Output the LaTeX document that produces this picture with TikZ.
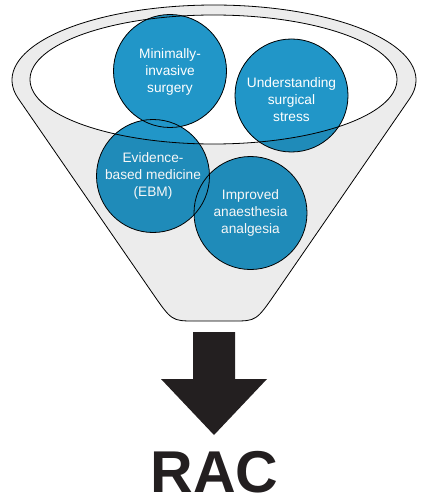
\documentclass[tikz,border=0pt]{standalone}
\usepackage{fontspec}
\setmainfont{Liberation Sans}
\usetikzlibrary{shapes.geometric}
\definecolor{racblue}{RGB}{33,150,200}
\definecolor{racdeep}{RGB}{31,139,185}
\definecolor{funnelgrey}{RGB}{236,236,236}
\definecolor{racblack}{RGB}{35,31,32}
\tikzset{
    rim/.style={draw=black,line width=0.8pt},
    mouthrim/.style={ellipse,minimum width=367pt,minimum height=129pt,inner sep=0pt},
    disc/.style={circle,fill=racdeep,minimum size=113pt,inner sep=0pt},
    discrim/.style={circle,draw=black,line width=0.8pt,minimum size=113pt,inner sep=0pt},
    disctext/.style={align=center,text=white,font=\fontsize{13.7}{17.3}\selectfont}
}

\begin{document}
\begin{tikzpicture}[x=1pt,y=-1pt]
    \useasboundingbox (0,0) rectangle (425,500);
    \coordinate (L) at (151.7,292);
    \coordinate (LC) at (171.7,321);
    \coordinate (LB) at (195,321);
    \coordinate (RB) at (233,321);
    \coordinate (RC) at (256.3,321);
    \coordinate (R) at (276.3,292);
    \draw [rim,fill=funnelgrey] plot [smooth,samples=61,domain=194.4:-14.4] ({214+202*cos(\x)},{80-75*sin(\x)})
        -- (R) .. controls (RC) .. (RB) -- (LB) .. controls (LC) .. (L) -- cycle;
    \node [mouthrim,fill=white] (mouth) at (213.5,79.5) {};
    \foreach \name/\pos in {ebm/{153,176},mis/{170,71},uss/{291.5,95.5},iaa/{250.5,213}}
        \node [disc] (\name) at (\pos) {};
    \begin{scope}
        \clip (mouth.center) ellipse [x radius=183.5,y radius=64.5];
        \foreach \name in {ebm,mis,uss,iaa}
            \fill [racblue] (\name) circle [radius=56.5];
    \end{scope}
    \node [mouthrim,rim] (mouth-rim) at (mouth) {};
    \foreach \name in {ebm,mis,uss,iaa}
        \node [discrim] (\name-rim) at (\name) {};
    \node [disctext] (mis-text) at ([yshift=-1pt]mis) {Minimally-\\invasive\\surgery};
    \node [disctext] (uss-text) at ([yshift=-4pt]uss) {Understanding\\surgical\\stress};
    \node [disctext,text=white!60!funnelgrey] (ebm-text) at (ebm) {Evidence-\\based medicine\\(EBM)};
    \node [disctext,text=white!60!funnelgrey] (iaa-text) at (iaa) {Improved\\anaesthesia\\analgesia};
    \coordinate (shaft) at (214,332);
    \coordinate (tip) at (214,435);
    \fill [racblack] (193,332) -- (235,332) -- (235,379) -- (267,379) -- (tip) -- (161,379) -- (193,379) -- cycle;
    \node [anchor=base,inner sep=0pt,text=racblack,font=\bfseries\fontsize{59}{59}\selectfont] (rac) at (214.5,492) {RAC};
\end{tikzpicture}
\end{document}
